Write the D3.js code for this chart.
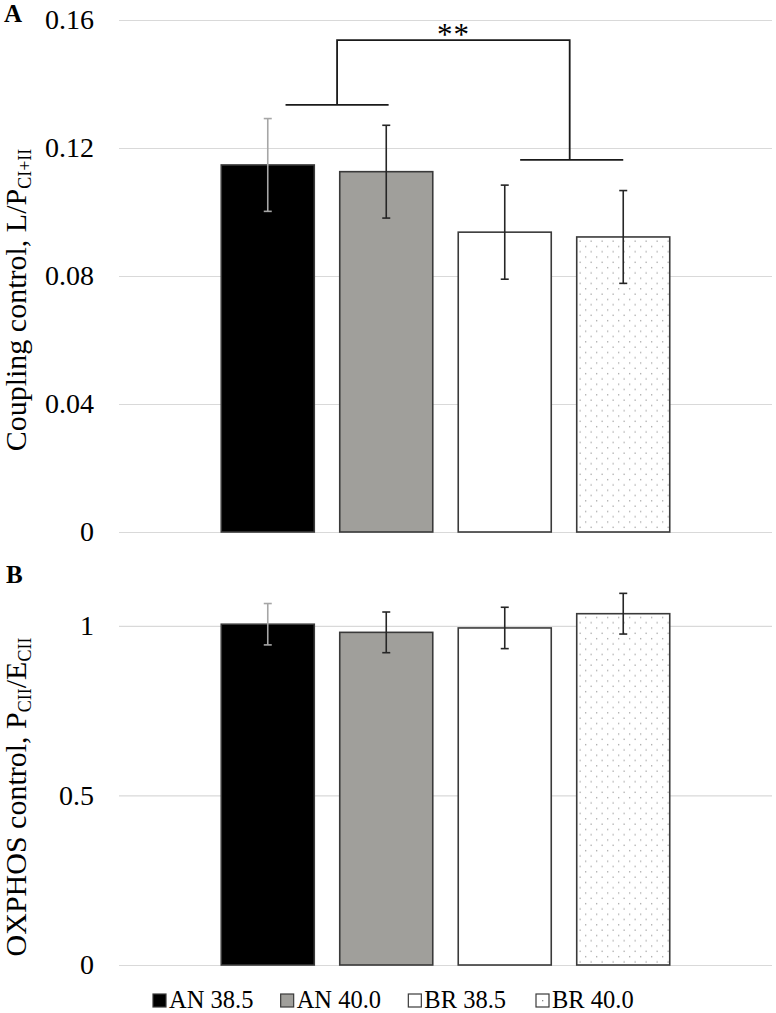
<!DOCTYPE html>
<html>
<head>
<meta charset="utf-8">
<script src="https://cdn.jsdelivr.net/npm/d3@7"></script>
<style>
  html, body { margin: 0; padding: 0; background: #fff; }
  svg { display: block; font-family: "Liberation Serif", "Times New Roman", serif; }
</style>
</head>
<body>
<script>
// ---------------- data ----------------
const categories = ["AN 38.5", "AN 40.0", "BR 38.5", "BR 40.0"];

const couplingValues = [0.1147, 0.1126, 0.0937, 0.0922];
const couplingErrors = [0.0145, 0.0145, 0.0147, 0.0145];

const oxphosValues = [1.005, 0.981, 0.994, 1.036];
const oxphosErrors = [0.061, 0.060, 0.061, 0.060];

const couplingTicks = [0, 0.04, 0.08, 0.12, 0.16];
const couplingTickLabels = ["0", "0.04", "0.08", "0.12", "0.16"];
const oxphosTicks = [0, 0.5, 1];
const oxphosTickLabels = ["0", "0.5", "1"];

// significance bracket (values in data units of panel A)
const bracketTop = 0.1537;
const bracketLeftLevel = 0.1335;
const bracketRightLevel = 0.1163;
const bracketLabel = "**";

// ---------------- styles ----------------
const fills = ["#000000", "#a09f9b", "#ffffff", "url(#dots)"];
const errColors = ["#a6a6a6", "#262626", "#262626", "#262626"];

const W = 776, H = 1013;
const svg = d3.select("body").append("svg").attr("width", W).attr("height", H);
svg.append("rect").attr("width", W).attr("height", H).attr("fill", "#fff");

const defs = svg.append("defs");
const pat = defs.append("pattern").attr("id", "dots")
  .attr("patternUnits", "userSpaceOnUse").attr("width", 11).attr("height", 10.6);
pat.append("rect").attr("width", 11).attr("height", 10.6).attr("fill", "#fff");
pat.append("rect").attr("x", 2).attr("y", 2).attr("width", 1.3).attr("height", 1.3).attr("fill", "#a8a8a8");
pat.append("rect").attr("x", 7.5).attr("y", 7.3).attr("width", 1.3).attr("height", 1.3).attr("fill", "#a8a8a8");

const plotLeft = 119, plotRight = 772;
const x = d3.scaleBand().domain(categories).range([plotLeft, plotRight])
  .paddingInner(0.215).paddingOuter(0.863);

function panel(opts) {
  const { y, ticks, tickLabels, values, errors } = opts;
  const g = svg.append("g");

  // gridlines + tick labels
  const axis = d3.axisLeft(y).tickValues(ticks)
    .tickFormat((d, i) => tickLabels[i])
    .tickSize(-(plotRight - plotLeft)).tickPadding(25);
  const ag = g.append("g").attr("transform", `translate(${plotLeft},0)`).call(axis);
  ag.attr("font-family", "Liberation Serif, serif");
  ag.select(".domain").remove();
  ag.selectAll(".tick line").attr("stroke", "#d9d9d9").attr("stroke-width", 1.2);
  ag.selectAll(".tick text").attr("font-size", 28).attr("fill", "#000");

  // bars
  g.selectAll("rect.bar").data(categories).join("rect").attr("class", "bar")
    .attr("x", d => x(d))
    .attr("width", x.bandwidth())
    .attr("y", (d, i) => y(values[i]))
    .attr("height", (d, i) => y(0) - y(values[i]))
    .attr("fill", (d, i) => fills[i])
    .attr("stroke", "#3a3a3a").attr("stroke-width", 1.6);

  // error bars
  const cap = 4;
  const eg = g.selectAll("g.err").data(categories).join("g").attr("class", "err")
    .attr("stroke", (d, i) => errColors[i]).attr("stroke-width", 1.6);
  eg.append("line")
    .attr("x1", d => x(d) + x.bandwidth() / 2).attr("x2", d => x(d) + x.bandwidth() / 2)
    .attr("y1", (d, i) => y(values[i] + errors[i])).attr("y2", (d, i) => y(values[i] - errors[i]));
  eg.append("line")
    .attr("x1", d => x(d) + x.bandwidth() / 2 - cap).attr("x2", d => x(d) + x.bandwidth() / 2 + cap)
    .attr("y1", (d, i) => y(values[i] + errors[i])).attr("y2", (d, i) => y(values[i] + errors[i]));
  eg.append("line")
    .attr("x1", d => x(d) + x.bandwidth() / 2 - cap).attr("x2", d => x(d) + x.bandwidth() / 2 + cap)
    .attr("y1", (d, i) => y(values[i] - errors[i])).attr("y2", (d, i) => y(values[i] - errors[i]));
  return g;
}

// ---------------- Panel A ----------------
const yA = d3.scaleLinear().domain([0, 0.16]).range([532, 20]);
panel({ y: yA, ticks: couplingTicks, tickLabels: couplingTickLabels, values: couplingValues, errors: couplingErrors });

// bracket
const cx = i => x(categories[i]) + x.bandwidth() / 2;
const step = x.step();
const lA = cx(0) + 0.15 * step, lB = cx(1) + 0.02 * step;
const rA = cx(2) + 0.13 * step, rB = cx(3);
const lMid = (lA + lB) / 2, rMid = (rA + rB) / 2 - 2;
const br = svg.append("g").attr("stroke", "#1a1a1a").attr("stroke-width", 1.8).attr("fill", "none");
br.append("line").attr("x1", lA).attr("x2", lB).attr("y1", yA(bracketLeftLevel)).attr("y2", yA(bracketLeftLevel));
br.append("line").attr("x1", rA).attr("x2", rB).attr("y1", yA(bracketRightLevel)).attr("y2", yA(bracketRightLevel));
br.append("path").attr("d",
  `M${lMid},${yA(bracketLeftLevel)}V${yA(bracketTop)}H${rMid}V${yA(bracketRightLevel)}`);
svg.append("text").attr("x", (lMid + rMid) / 2).attr("y", 45)
  .attr("text-anchor", "middle").attr("font-size", 31).attr("letter-spacing", 1).text(bracketLabel);

// title A
const tA = svg.append("text").attr("transform", "translate(26,300) rotate(-90)")
  .attr("text-anchor", "middle").attr("font-size", 30);
tA.append("tspan").text("Coupling control, L/P");
tA.append("tspan").attr("font-size", 18).attr("dy", 5).text("CI+II");

svg.append("text").attr("x", 4).attr("y", 22).attr("font-size", 25).attr("font-weight", "bold").text("A");

// ---------------- Panel B ----------------
const yB = d3.scaleLinear().domain([0, 1.1]).range([965, 592]);
panel({ y: yB, ticks: oxphosTicks, tickLabels: oxphosTickLabels, values: oxphosValues, errors: oxphosErrors });

const tB = svg.append("text").attr("transform", "translate(26,797) rotate(-90)")
  .attr("text-anchor", "middle").attr("font-size", 30);
tB.append("tspan").text("OXPHOS control, P");
tB.append("tspan").attr("font-size", 18).attr("dy", 5).text("CII");
tB.append("tspan").attr("dy", -5).text("/E");
tB.append("tspan").attr("font-size", 18).attr("dy", 5).text("CII");

svg.append("text").attr("x", 6).attr("y", 583).attr("font-size", 25).attr("font-weight", "bold").text("B");

// ---------------- Legend ----------------
const legendX = d3.scalePoint().domain(categories).range([153, 536]);
const lg = svg.selectAll("g.leg").data(categories).join("g").attr("class", "leg")
  .attr("transform", d => `translate(${legendX(d)},0)`);
lg.append("rect").attr("x", 0).attr("y", 994).attr("width", 13).attr("height", 13)
  .attr("fill", (d, i) => i === 3 ? "#fff" : fills[i])
  .attr("stroke", "#3a3a3a").attr("stroke-width", 1.2);
lg.filter((d, i) => i === 3).append("rect").attr("x", 6).attr("y", 1000).attr("width", 1.3).attr("height", 1.3).attr("fill", "#888");
lg.append("text").attr("x", 16).attr("y", 1008).attr("font-size", 24.5).text(d => d);
</script>
</body>
</html>
